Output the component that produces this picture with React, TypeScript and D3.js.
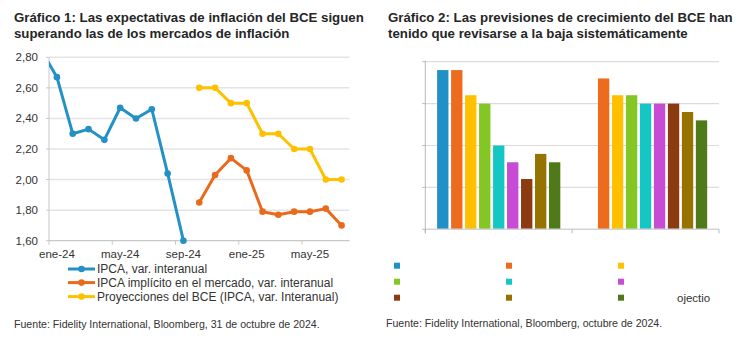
import React from "react";
import * as d3 from "d3";

// ---------- Data: Gráfico 1 ----------
const months = [
  "dic-23", "ene-24", "feb-24", "mar-24", "abr-24", "may-24", "jun-24", "jul-24", "ago-24", "sep-24",
  "oct-24", "nov-24", "dic-24", "ene-25", "feb-25", "mar-25", "abr-25", "may-25", "jun-25", "jul-25",
];
const xTickLabels = ["ene-24", "may-24", "sep-24", "ene-25", "may-25"];
const yTicks1 = [1.6, 1.8, 2.0, 2.2, 2.4, 2.6, 2.8];

const ipcaStart = "dic-23";
const ipcaValues = [2.85, 2.67, 2.30, 2.33, 2.26, 2.47, 2.40, 2.46, 2.04, 1.60];
const impliedStart = "oct-24";
const impliedValues = [1.85, 2.03, 2.14, 2.06, 1.79, 1.77, 1.79, 1.79, 1.81, 1.70];
const bceStart = "oct-24";
const bceValues = [2.60, 2.60, 2.50, 2.50, 2.30, 2.30, 2.20, 2.20, 2.00, 2.00];

const legend1 = [
  "IPCA, var. interanual",
  "IPCA implícito en el mercado, var. interanual",
  "Proyecciones del BCE (IPCA, var. Interanual)",
];

// ---------- Data: Gráfico 2 ----------
const years = ["2024", "2025"];
const projections = [
  "Sep 2022 Projection", "Dec 2022 Projection", "Mar 2023 Projection",
  "Jun 2023 Projection", "Sep 2023 Projection", "Dec 2023 Projection",
  "Mar 2024 Projection", "Jun 2024 Projection", "Sep 2024 Projection",
];
const growth2024 = [1.9, 1.9, 1.6, 1.5, 1.0, 0.8, 0.6, 0.9, 0.8];
const growth2025: (number | null)[] = [null, 1.8, 1.6, 1.6, 1.5, 1.5, 1.5, 1.4, 1.3];
const yTicks2 = [0, 0.5, 1.0, 1.5, 2.0];

// ---------- Styles ----------
const FONT = "'Liberation Sans', Arial, Helvetica, sans-serif";
const TEXT = "#333333";
const lineColors = ["#2491c6", "#ea6a1c", "#ffc000"];
const barColors = ["#2190c6", "#ec6b1c", "#ffc000", "#84c725", "#14c6c4", "#c84bd6", "#8c3a0f", "#967300", "#4f7a19"];

export default function App() {
  // ---- chart 1 geometry
  const L = { left: 49, right: 349.5, top: 57.3, bottom: 240.7 };
  const xb = d3.scaleLinear().domain([1, months.length]).range([L.left, L.right]);
  const xc = (m: string) => xb(months.indexOf(m) + 0.5);
  const y1 = d3.scaleLinear().domain([1.6, 2.8]).range([L.bottom, L.top]);

  const mk = (start: string, vals: number[]) => {
    const s = months.indexOf(start);
    return vals.map((v, i) => ({ m: months[s + i], v }));
  };
  const series = [mk(ipcaStart, ipcaValues), mk(impliedStart, impliedValues), mk(bceStart, bceValues)];
  const line = d3.line<{ m: string; v: number }>().x((d) => xc(d.m)).y((d) => y1(d.v));

  // ---- chart 2 geometry
  const R = { left: 425.3, right: 719, top: 61.7, bottom: 229.3 };
  const x0 = d3.scaleBand().domain(years).range([R.left, R.right]).padding(0);
  const x1 = d3.scaleBand().domain(projections).range([0, x0.bandwidth()]).paddingInner(0.19).paddingOuter(0.845);
  const y2 = d3.scaleLinear().domain([0, 2]).range([R.bottom, R.top]);
  const groups = [growth2024, growth2025];

  return (
    <svg width={752} height={339} style={{ position: "absolute", left: 0, top: 0, background: "#fff" }} fontFamily={FONT}>
      <defs>
        <clipPath id="clip1">
          <rect x={L.left} y={L.top - 10} width={L.right - L.left + 10} height={L.bottom - L.top + 20} />
        </clipPath>
      </defs>

      {/* Titles */}
      <g fontWeight="bold" fontSize={13.25} fill="#262626">
        <text x={14} y={21.5}>Gráfico 1: Las expectativas de inflación del BCE siguen</text>
        <text x={14} y={38.2}>superando las de los mercados de inflación</text>
        <text x={388} y={21.5}>Gráfico 2: Las previsiones de crecimiento del BCE han</text>
        <text x={388} y={38.2}>tenido que revisarse a la baja sistemáticamente</text>
      </g>

      {/* ---- Chart 1 ---- */}
      {yTicks1.map((t) => (
        <g key={t}>
          {t > 1.6 && <line x1={L.left} x2={L.right} y1={y1(t)} y2={y1(t)} stroke="#e4e4e4" strokeWidth={1.5} />}
          <line x1={L.left - 3} x2={L.left} y1={y1(t)} y2={y1(t)} stroke="#c8c8c8" />
          <text x={38} y={y1(t) + 4} textAnchor="end" fontSize={11.5} fill={TEXT}>
            {t.toFixed(2).replace(".", ",")}
          </text>
        </g>
      ))}
      <line x1={L.left} x2={L.left} y1={L.top} y2={L.bottom} stroke="#c8c8c8" />
      <line x1={L.left} x2={L.right} y1={L.bottom} y2={L.bottom} stroke="#c8c8c8" strokeWidth={1.2} />
      {xTickLabels.map((m) => {
        const i = months.indexOf(m);
        return (
          <g key={m}>
            <line x1={xb(i)} x2={xb(i)} y1={L.bottom} y2={L.bottom + 4} stroke="#c8c8c8" />
            <text x={xc(m)} y={258} textAnchor="middle" fontSize={11.5} fill={TEXT}>{m}</text>
          </g>
        );
      })}
      <g clipPath="url(#clip1)">
        {series.map((s, k) => (
          <g key={k}>
            <path d={line(s) || ""} fill="none" stroke={lineColors[k]} strokeWidth={3} strokeLinejoin="round" />
            {s.map((d) => (
              <circle key={d.m} cx={xc(d.m)} cy={y1(d.v)} r={3.3} fill={lineColors[k]} />
            ))}
          </g>
        ))}
      </g>

      {/* Legend 1 */}
      {legend1.map((lab, k) => {
        const yy = [269, 282.6, 296.6][k];
        return (
          <g key={lab}>
            <line x1={68} x2={95} y1={yy} y2={yy} stroke={lineColors[k]} strokeWidth={3} />
            <circle cx={81.5} cy={yy} r={3.3} fill={lineColors[k]} />
            <text x={97} y={yy + 4.3} fontSize={12} fill={TEXT}>{lab}</text>
          </g>
        );
      })}
      <text x={14} y={327.5} fontSize={10.6} fill={TEXT}>
        Fuente: Fidelity International, Bloomberg, 31 de octubre de 2024.
      </text>

      {/* ---- Chart 2 ---- */}
      {yTicks2.map((t) => (
        <g key={t}>
          {t > 0 && <line x1={R.left} x2={R.right} y1={y2(t)} y2={y2(t)} stroke="#dcdce0" strokeWidth={1.2} />}
          <line x1={R.left - 3} x2={R.left} y1={y2(t)} y2={y2(t)} stroke="#b8b8bc" />
        </g>
      ))}
      {groups.map((vals, g) => (
        <g key={years[g]} transform={`translate(${x0(years[g])},0)`}>
          {vals.map((v, i) =>
            v == null ? null : (
              <rect
                key={projections[i]}
                x={x1(projections[i])}
                y={y2(v)}
                width={x1.bandwidth()}
                height={y2(0) - y2(v)}
                fill={barColors[i]}
              />
            )
          )}
        </g>
      ))}
      <line x1={R.left} x2={R.right} y1={R.bottom} y2={R.bottom} stroke="#d4d4da" strokeWidth={1.6} />
      <line x1={R.left} x2={R.left} y1={R.top - 1} y2={R.bottom + 4} stroke="#b8b8bc" />
      {[...years.map((yv) => x0(yv) as number), R.right].map((xx, i) => (
        <line key={i} x1={xx} x2={xx} y1={R.bottom} y2={R.bottom + 4} stroke="#b8b8bc" />
      ))}

      {/* Legend 2 */}
      {projections.map((p, i) => {
        const col = i % 3;
        const row = Math.floor(i / 3);
        return (
          <rect key={p} x={394 + col * 112} y={262.7 + row * 16} width={6} height={6} fill={barColors[i]} />
        );
      })}
      <text x={677} y={301.5} fontSize={11.5} fill={TEXT}>ojectio</text>
      <text x={386} y={326.5} fontSize={10.6} fill={TEXT}>
        Fuente: Fidelity International, Bloomberg, octubre de 2024.
      </text>
    </svg>
  );
}
